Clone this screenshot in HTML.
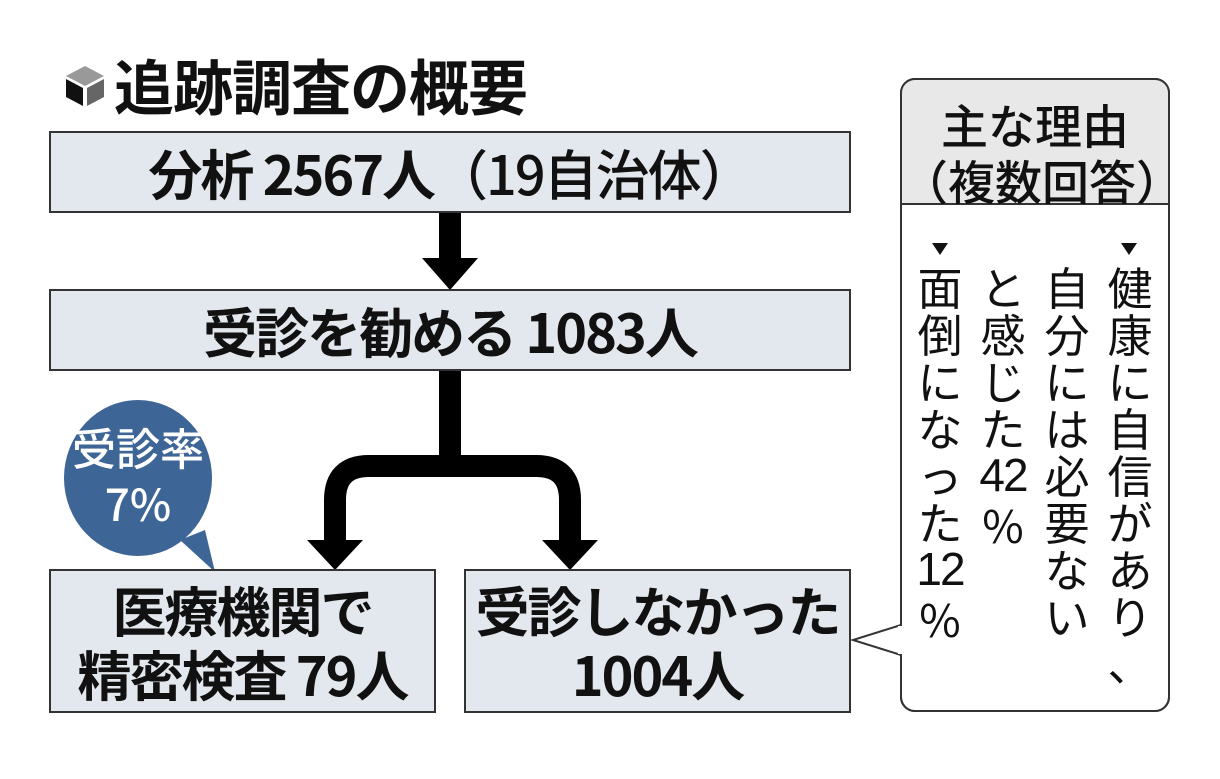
<!DOCTYPE html>
<html><head><meta charset="utf-8">
<style>
body{margin:0;width:1220px;height:779px;background:#fff;position:relative;overflow:hidden;font-family:"Liberation Sans","Noto Sans CJK JP",sans-serif;color:#111}
.box{position:absolute;background:#e3e8ee;border:2px solid #333;box-sizing:border-box;display:flex;flex-direction:column;align-items:center;justify-content:center;font-weight:bold;font-family:"Noto Sans CJK JP",sans-serif;font-size:54px;letter-spacing:-2px;line-height:64px;white-space:nowrap}
.col{position:absolute;width:50px;display:flex;flex-direction:column;align-items:center;font-family:"Noto Sans CJK JP",sans-serif;font-size:45px;line-height:47px}
.num{font-size:46px;letter-spacing:-2px;font-family:"Liberation Sans",sans-serif;line-height:50px}
.tri{position:absolute;width:0;height:0;border-left:8px solid transparent;border-right:8px solid transparent;border-top:12px solid #111}
</style></head><body>
<svg style="position:absolute;left:0;top:0" width="1220" height="779">
  <polygon points="85,66 104,76 85,86 66,76" fill="#999"/>
  <polygon points="66,79 83,88 83,106 66,97" fill="#111"/>
  <polygon points="87,88 104,79 104,97 87,106" fill="#666"/>
  <rect x="439" y="212" width="22" height="48" fill="#000"/>
  <polygon points="422,258 478,258 450,290" fill="#000"/>
  <rect x="439" y="370" width="22" height="95" fill="#000"/>
  <path d="M335,545 L335,500 Q335,466 369,466 L536,466 Q570,466 570,500 L570,545" fill="none" stroke="#000" stroke-width="22"/>
  <polygon points="307,540 363,540 335,570" fill="#000"/>
  <polygon points="542,540 598,540 570,570" fill="#000"/>
  <path d="M180,540 L215,572 L205,530 Z" fill="#3d6596"/>
  <ellipse cx="138" cy="478" rx="74" ry="78" fill="#3d6596"/>
  <rect x="901" y="79" width="268" height="632" rx="14" fill="#fff" stroke="#333" stroke-width="2"/>
  <path d="M901,93 Q901,79 915,79 L1155,79 Q1169,79 1169,93 L1169,204 L901,204 Z" fill="#e8e8e8"/>
  <line x1="901" y1="204" x2="1169" y2="204" stroke="#333" stroke-width="2"/>
  <rect x="901" y="79" width="268" height="632" rx="14" fill="none" stroke="#333" stroke-width="2"/>
  <polyline points="901,625 853,640 901,655" fill="#fff" stroke="#333" stroke-width="2"/>
  <rect x="898" y="626" width="6" height="28" fill="#fff"/>
</svg>
<div style="position:absolute;left:114px;top:48px;font-family:'Noto Sans CJK JP',sans-serif;font-weight:bold;font-size:60px;line-height:74px;letter-spacing:-1px;white-space:nowrap">追跡調査の概要</div>
<div class="box" style="left:49px;top:131px;width:802px;height:82px;display:block;text-align:center;line-height:78px">分析 2567人<span style="font-weight:500">（19自治体）</span></div>
<div class="box" style="left:49px;top:289px;width:802px;height:82px">受診を勧める 1083人</div>
<div class="box" style="left:49px;top:569px;width:387px;height:144px"><div>医療機関で</div><div>精密検査 79人</div></div>
<div class="box" style="left:464px;top:569px;width:387px;height:144px"><div>受診しなかった</div><div>1004人</div></div>
<div style="position:absolute;left:60px;top:418px;width:156px;text-align:center;color:#fff;font-family:'Noto Sans CJK JP',sans-serif;font-size:44px;line-height:56px;font-weight:500;white-space:nowrap">受診率<br>7%</div>
<div style="position:absolute;left:901px;top:96px;width:268px;text-align:center;font-family:'Noto Sans CJK JP',sans-serif;font-size:47px;line-height:56px;font-weight:500;white-space:nowrap">主な理由<br>（複数回答）</div>
<div class="tri" style="left:1121px;top:243px"></div>
<div class="tri" style="left:932px;top:243px"></div>
<div class="col" style="left:1105px;top:262px"><span>健</span><span>康</span><span>に</span><span>自</span><span>信</span><span>が</span><span>あ</span><span>り</span><span>、</span></div>
<div class="col" style="left:1042px;top:262px"><span>自</span><span>分</span><span>に</span><span>は</span><span>必</span><span>要</span><span>な</span><span>い</span></div>
<div class="col" style="left:978px;top:262px"><span>と</span><span>感</span><span>じ</span><span>た</span><span class="num">42</span><span>%</span></div>
<div class="col" style="left:915px;top:262px"><span>面</span><span>倒</span><span>に</span><span>な</span><span>っ</span><span>た</span><span class="num">12</span><span>%</span></div>
</body></html>
